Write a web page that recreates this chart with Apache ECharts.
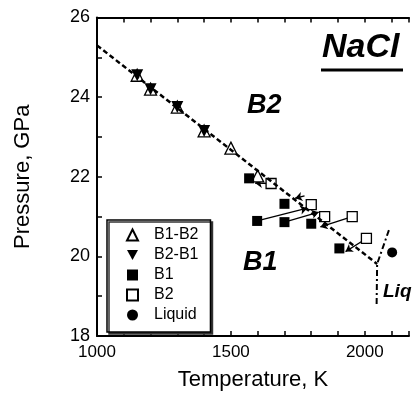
<!DOCTYPE html>
<html>
<head>
<meta charset="utf-8">
<script src="https://cdn.jsdelivr.net/npm/echarts@6/dist/echarts.min.js"></script>
<style>
  html, body { margin: 0; padding: 0; background: #fff; }
  #main { width: 412px; height: 396px; }
</style>
</head>
<body>
<div id="main"></div>
<script>
const FONT = 'Liberation Sans, Arial, sans-serif';

// [temperature K, pressure GPa]
const b1b2 = [[1150, 24.55], [1200, 24.2], [1300, 23.75], [1400, 23.15], [1500, 22.72], [1600, 22.02]];
const b2b1 = [[1150, 24.55], [1200, 24.2], [1300, 23.75], [1400, 23.15]];
const b1 = [[1568, 21.96], [1700, 21.32], [1598, 20.89], [1700, 20.86], [1800, 20.82], [1905, 20.2]];
const b2 = [[1650, 21.83], [1800, 21.3], [1850, 21.0], [1953, 21.0], [2006, 20.45]];
const liquid = [[2102, 20.1]];

// phase boundaries
const boundaryB1B2 = [[1000, 25.3], [2046, 19.81]];
const boundaryLiquid = [[2090, 20.66], [2046, 19.81], [2044, 18.77]];

// arrows: [from, to]
const arrows = [
  [[1650, 21.83], [1590, 21.84]],
  [[1775, 21.52], [1740, 21.46]],
  [[1598, 20.89], [1785, 21.21]],
  [[1700, 20.86], [1828, 21.11]],
  [[1953, 21.0], [1834, 20.74]],
  [[2006, 20.45], [1928, 20.12]]
];

const xLabels = [1000, 1500, 2000];
const yLabels = [18, 20, 22, 24, 26];

const chart = echarts.init(document.getElementById('main'));

const axisLine = { show: true, lineStyle: { color: '#000', width: 2 } };
const tick = { inside: true, length: 5, lineStyle: { color: '#000', width: 1.5 } };

const downTri = 'path://M0,0 L10,0 L5,9 Z';

const option = {
  backgroundColor: '#fff',
  animation: false,
  grid: { left: 97, top: 17.5, bottom: 54, right: 0 },
  legend: {
    orient: 'vertical',
    left: 107,
    top: 220,
    data: [
      { name: 'B1-B2', icon: 'triangle' },
      { name: 'B2-B1', icon: downTri },
      { name: 'B1', icon: 'rect' },
      { name: 'B2', icon: 'rect' },
      { name: 'Liquid', icon: 'circle' }
    ],
    itemWidth: 11,
    itemHeight: 11,
    itemGap: 4,
    padding: [7, 12, 9, 19],
    backgroundColor: '#fff',
    borderColor: '#000',
    borderWidth: 1.5,
    borderRadius: 0,
    shadowColor: '#333',
    shadowBlur: 0,
    shadowOffsetX: 2,
    shadowOffsetY: 2,
    textStyle: { fontFamily: FONT, fontSize: 16, color: '#000', lineHeight: 16, padding: [0, 0, 0, 11] }
  },
  xAxis: [
    {
      type: 'value', position: 'bottom', min: 1000, max: 2165, interval: 100,
      name: 'Temperature, K', nameLocation: 'middle', nameGap: 33,
      nameTextStyle: { fontFamily: FONT, fontSize: 22, color: '#000' },
      axisLine: axisLine,
      axisTick: tick,
      axisLabel: {
        fontFamily: FONT, fontSize: 17, color: '#000', margin: 8,
        formatter: v => (xLabels.includes(v) ? String(v) : '')
      },
      splitLine: { show: false }
    },
    {
      type: 'value', position: 'top', min: 1000, max: 2165, interval: 100,
      axisLine: axisLine,
      axisTick: tick,
      axisLabel: { show: false },
      splitLine: { show: false }
    }
  ],
  yAxis: [
    {
      type: 'value', position: 'left', min: 18, max: 26, interval: 1,
      name: 'Pressure, GPa', nameLocation: 'middle', nameGap: 63,
      nameTextStyle: { fontFamily: FONT, fontSize: 22, color: '#000' },
      axisLine: axisLine,
      axisTick: tick,
      axisLabel: {
        fontFamily: FONT, fontSize: 18, color: '#000', margin: 7,
        formatter: v => (yLabels.includes(v) ? String(v) : '')
      },
      splitLine: { show: false }
    }
  ],
  series: [
    {
      name: 'boundary', type: 'line', data: boundaryB1B2, symbol: 'none',
      lineStyle: { color: '#000', width: 2.5, type: [5, 3] }, silent: true
    },
    {
      name: 'melting', type: 'line', data: boundaryLiquid, symbol: 'none',
      lineStyle: { color: '#000', width: 2, type: [6, 3, 2, 3] }, silent: true
    },
    {
      name: 'arrows', type: 'lines', coordinateSystem: 'cartesian2d',
      data: arrows.map(a => ({ coords: a })),
      symbol: ['none', 'arrow'], symbolSize: 7,
      lineStyle: { color: '#000', width: 1.3, opacity: 1 }
    },
    {
      name: 'B1-B2', type: 'scatter', data: b1b2, symbol: 'triangle', symbolSize: 12,
      itemStyle: { color: '#fff', borderColor: '#000', borderWidth: 1.3, opacity: 1 }
    },
    {
      name: 'B2-B1', type: 'scatter', data: b2b1, symbol: 'triangle', symbolSize: 12, symbolRotate: 180,
      itemStyle: { color: '#000', opacity: 1 }
    },
    {
      name: 'B1', type: 'scatter', data: b1, symbol: 'rect', symbolSize: 10,
      itemStyle: { color: '#000', opacity: 1 }
    },
    {
      name: 'B2', type: 'scatter', data: b2, symbol: 'rect', symbolSize: 10,
      itemStyle: { color: '#fff', borderColor: '#000', borderWidth: 1.3, opacity: 1 }
    },
    {
      name: 'Liquid', type: 'scatter', data: liquid, symbol: 'circle', symbolSize: 10,
      itemStyle: { color: '#000', opacity: 1 }
    }
  ],
  graphic: [
    {
      type: 'text', left: 322, top: 31,
      style: { text: 'NaCl', font: 'italic bold 34px ' + FONT, fill: '#000' }
    },
    {
      type: 'line', shape: { x1: 321, y1: 70, x2: 403, y2: 70 },
      style: { stroke: '#000', lineWidth: 3 }
    },
    {
      type: 'text', left: 247, top: 92,
      style: { text: 'B2', font: 'italic bold 27px ' + FONT, fill: '#000' }
    },
    {
      type: 'text', left: 243, top: 249,
      style: { text: 'B1', font: 'italic bold 27px ' + FONT, fill: '#000' }
    },
    {
      type: 'text', left: 383, top: 282,
      style: { text: 'Liquid', font: 'italic bold 19px ' + FONT, fill: '#000' }
    }
  ]
};

chart.setOption(option);
</script>
</body>
</html>
